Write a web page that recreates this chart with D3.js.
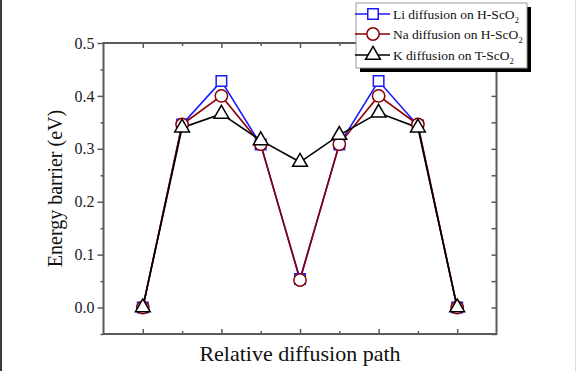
<!DOCTYPE html>
<html>
<head>
<meta charset="utf-8">
<script src="https://cdn.jsdelivr.net/npm/d3@7"></script>
<style>
    body { margin: 0; background: #fff; }
    svg { display: block; font-family: "Liberation Serif", "Times New Roman", serif; }
</style>
</head>
<body>
<div id="chart"></div>
<script>
"use strict";

// relative positions along the diffusion path
const steps = [1, 2, 3, 4, 5, 6, 7, 8, 9];
const liBarrier = [0, 0.346, 0.428, 0.308, 0.054, 0.308, 0.428, 0.344, 0];
const naBarrier = [0, 0.346, 0.400, 0.309, 0.052, 0.309, 0.400, 0.346, 0];
const kBarrier = [0, 0.340, 0.366, 0.316, 0.275, 0.326, 0.368, 0.340, 0];
const yMajorTicks = [0, 0.1, 0.2, 0.3, 0.4, 0.5];
const yMinorTicks = [-0.05, 0.05, 0.15, 0.25, 0.35, 0.45];
const xMajorTicks = [1, 3, 5, 7, 9];
const xMinorTicks = [2, 4, 6, 8];

const series = [
    { name: "Li diffusion on H-ScO", values: liBarrier, color: "#1a1aff", symbol: d3.symbolSquare, size: 110 },
    { name: "Na diffusion on H-ScO", values: naBarrier, color: "#8b0000", symbol: d3.symbolCircle, size: 120 },
    { name: "K diffusion on T-ScO", values: kBarrier, color: "#000000", symbol: d3.symbolTriangle, size: 95 },
];

const width = 577;
const height = 371;
const plot = { left: 103.5, right: 496.5, top: 43, bottom: 334 };

const svg = d3
    .select("#chart")
    .append("svg")
    .attr("width", width)
    .attr("height", height);

// page edges
svg.append("rect").attr("x", 0).attr("y", 0).attr("width", 2).attr("height", height).attr("fill", "#3a3a3a");
svg.append("rect").attr("x", 575).attr("y", 0).attr("width", 1).attr("height", height).attr("fill", "#dcdcdc");

const xScale = d3.scaleLinear().domain([0, 10]).range([plot.left, plot.right]);
const yScale = d3.scaleLinear().domain([-0.05, 0.5]).range([plot.bottom, plot.top]);

const axisColor = "#5a5a5a";

function styleAxis(g) {
    g.select(".domain").remove();
    g.selectAll(".tick line").attr("stroke", axisColor).attr("stroke-width", 1.5);
    g.selectAll(".tick text")
        .attr("fill", "#222")
        .style("font-family", "Liberation Serif, serif")
        .style("font-size", "16px");
}

// left axis, ticks outward
svg.append("g")
    .attr("transform", `translate(${plot.left}, 0)`)
    .call(d3.axisLeft(yScale).tickValues(yMajorTicks).tickSize(6).tickPadding(3).tickFormat(d3.format(".1f")))
    .call(styleAxis);
svg.append("g")
    .attr("transform", `translate(${plot.left}, 0)`)
    .call(d3.axisLeft(yScale).tickValues(yMinorTicks).tickSize(3).tickFormat(""))
    .call(styleAxis);

// right axis, ticks inward
svg.append("g")
    .attr("transform", `translate(${plot.right}, 0)`)
    .call(d3.axisRight(yScale).tickValues(yMajorTicks.concat(yMinorTicks)).tickSize(-5).tickFormat(""))
    .call(styleAxis);

// bottom axis, ticks inward
svg.append("g")
    .attr("transform", `translate(0, ${plot.bottom})`)
    .call(d3.axisBottom(xScale).tickValues(xMajorTicks).tickSize(-5).tickFormat(""))
    .call(styleAxis);
svg.append("g")
    .attr("transform", `translate(0, ${plot.bottom})`)
    .call(d3.axisBottom(xScale).tickValues(xMinorTicks).tickSize(-3).tickFormat(""))
    .call(styleAxis);

// top axis, ticks inward
svg.append("g")
    .attr("transform", `translate(0, ${plot.top})`)
    .call(d3.axisTop(xScale).tickValues(xMajorTicks).tickSize(-5).tickFormat(""))
    .call(styleAxis);
svg.append("g")
    .attr("transform", `translate(0, ${plot.top})`)
    .call(d3.axisTop(xScale).tickValues(xMinorTicks).tickSize(-3).tickFormat(""))
    .call(styleAxis);

// frame
svg.append("rect")
    .attr("x", plot.left)
    .attr("y", plot.top)
    .attr("width", plot.right - plot.left)
    .attr("height", plot.bottom - plot.top)
    .attr("fill", "none")
    .attr("stroke", axisColor)
    .attr("stroke-width", 2);

// lines
const line = d3
    .line()
    .x((_, i) => xScale(steps[i]))
    .y(d => yScale(d));

series.forEach(s => {
    svg.append("path")
        .datum(s.values)
        .attr("d", line)
        .attr("fill", "none")
        .attr("stroke", s.color)
        .attr("stroke-width", 1.6);
});

// markers
series.forEach(s => {
    svg.append("g")
        .selectAll("path")
        .data(s.values)
        .enter()
        .append("path")
        .attr("d", d3.symbol().type(s.symbol).size(s.size))
        .attr("transform", (d, i) => `translate(${xScale(steps[i])}, ${yScale(d)})`)
        .attr("fill", "#fff")
        .attr("stroke", s.color)
        .attr("stroke-width", 1.5);
});

// axis titles
svg.append("text")
    .attr("transform", `translate(55, ${(plot.top + plot.bottom) / 2}) rotate(-90)`)
    .attr("text-anchor", "middle")
    .attr("dominant-baseline", "central")
    .style("font-size", "20px")
    .attr("fill", "#111")
    .text("Energy barrier (eV)");

svg.append("text")
    .attr("x", (plot.left + plot.right) / 2)
    .attr("y", 361)
    .attr("text-anchor", "middle")
    .style("font-size", "22px")
    .attr("fill", "#111")
    .text("Relative diffusion path");

// legend
const legend = svg.append("g");
const box = { x: 356, y: 3, w: 171, h: 65 };
legend.append("rect")
    .attr("x", box.x + 4).attr("y", box.y + 4)
    .attr("width", box.w).attr("height", box.h)
    .attr("fill", "#000");
legend.append("rect")
    .attr("x", box.x).attr("y", box.y)
    .attr("width", box.w).attr("height", box.h)
    .attr("fill", "#fff")
    .attr("stroke", "#999")
    .attr("stroke-width", 1);

const rowY = [14, 34, 55];
series.forEach((s, i) => {
    const y = rowY[i];
    legend.append("line")
        .attr("x1", 355).attr("x2", 390)
        .attr("y1", y).attr("y2", y)
        .attr("stroke", s.color)
        .attr("stroke-width", 1.6);
    legend.append("path")
        .attr("d", d3.symbol().type(s.symbol).size(s.size))
        .attr("transform", `translate(373, ${y})`)
        .attr("fill", "#fff")
        .attr("stroke", s.color)
        .attr("stroke-width", 1.5);
    const label = legend.append("text")
        .attr("x", 393)
        .attr("y", y + 5)
        .style("font-size", "13.5px")
        .attr("fill", "#111");
    label.append("tspan").text(s.name);
    label.append("tspan")
        .attr("dy", 4)
        .style("font-size", "8.5px")
        .text("2");
});
</script>
</body>
</html>
